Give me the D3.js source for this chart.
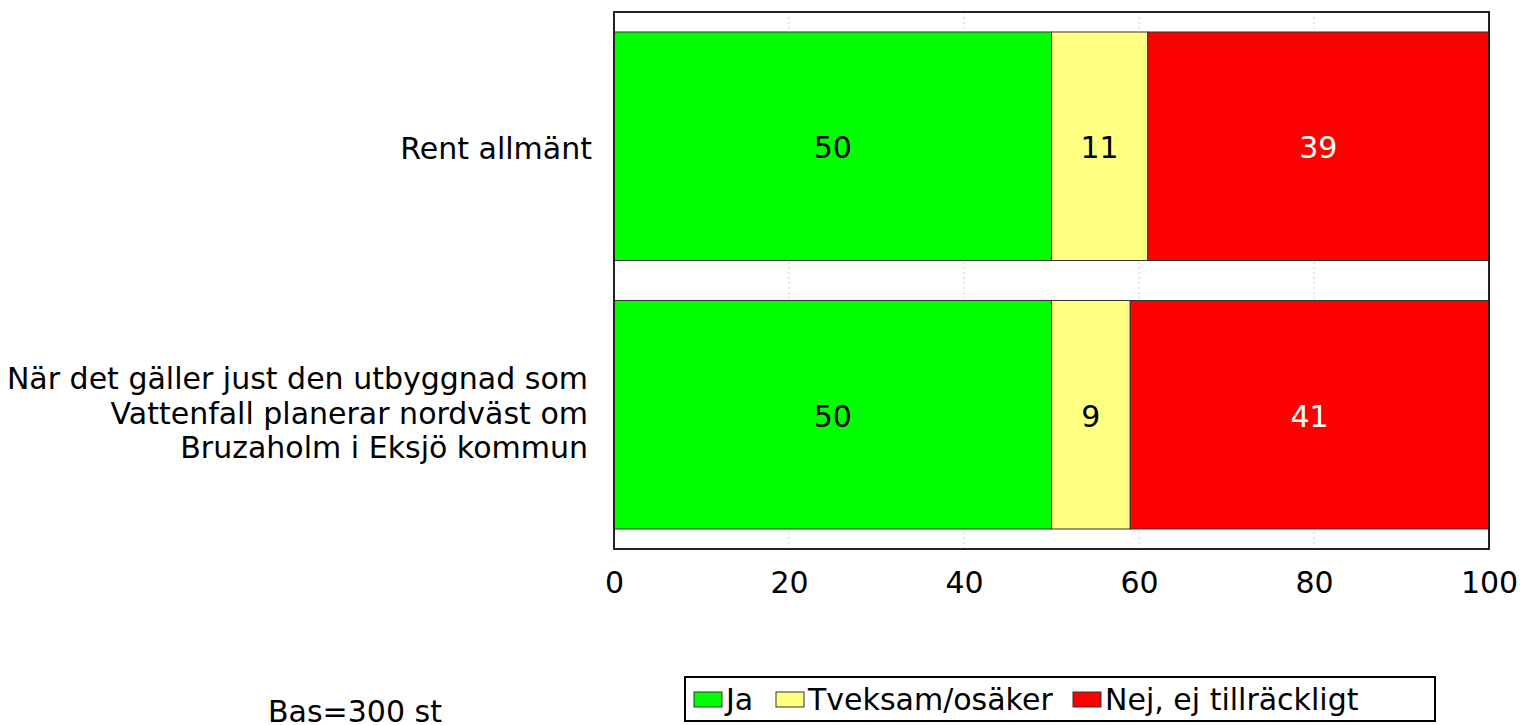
<!DOCTYPE html>
<html>
<head>
<meta charset="utf-8">
<script src="https://cdn.jsdelivr.net/npm/d3@7"></script>
<style>
  body { margin: 0; background: #fff; }
  svg text { font-family: Verdana, "DejaVu Sans", sans-serif; }
</style>
</head>
<body>
<svg id="chart" width="1520" height="725"></svg>
<script>
// data
const categories = [
  ["Rent allmänt"],
  ["När det gäller just den utbyggnad som", "Vattenfall planerar nordväst om", "Bruzaholm i Eksjö kommun"]
];
const seriesNames = ["Ja", "Tveksam/osäker", "Nej, ej tillräckligt"];
const seriesColors = ["#00ff00", "#ffff80", "#ff0000"];
const labelColors = ["#000", "#000", "#fff"];
const values = [
  [50, 11, 39],
  [50, 9, 41]
];
const xTicks = [0, 20, 40, 60, 80, 100];
const baseNote = "Bas=300 st";

const svg = d3.select("#chart");
const plotL = 614, plotR = 1489, plotT = 12, plotB = 549;
const fs = 30;

const x = d3.scaleLinear().domain([0, 100]).range([plotL, plotR]);
const y = d3.scaleBand()
  .domain(d3.range(categories.length))
  .range([plotT, plotB])
  .paddingInner(0.149)
  .paddingOuter(0.0745);

// gridlines
svg.append("g")
  .selectAll("line")
  .data(xTicks.slice(1, -1))
  .join("line")
  .attr("x1", d => x(d)).attr("x2", d => x(d))
  .attr("y1", plotT).attr("y2", plotB)
  .attr("stroke", "#cfcfcf")
  .attr("stroke-dasharray", "2,3");

// stacked bars
const rows = svg.append("g").selectAll("g")
  .data(values)
  .join("g");

rows.each(function (row, i) {
  let acc = 0;
  const segs = row.map((v, j) => {
    const s = { x0: acc, x1: acc + v, v: v, j: j };
    acc += v;
    return s;
  });
  const g = d3.select(this);
  g.selectAll("rect")
    .data(segs)
    .join("rect")
    .attr("x", d => x(d.x0))
    .attr("width", d => x(d.x1) - x(d.x0))
    .attr("y", y(i))
    .attr("height", y.bandwidth())
    .attr("fill", d => seriesColors[d.j])
    .attr("stroke", "#333")
    .attr("stroke-width", 1);
  g.selectAll("text")
    .data(segs)
    .join("text")
    .attr("x", d => x((d.x0 + d.x1) / 2))
    .attr("y", y(i) + y.bandwidth() / 2 + 12)
    .attr("text-anchor", "middle")
    .attr("font-size", fs)
    .attr("fill", d => labelColors[d.j])
    .text(d => d.v);
});

// frame
svg.append("rect")
  .attr("x", plotL).attr("y", plotT)
  .attr("width", plotR - plotL).attr("height", plotB - plotT)
  .attr("fill", "none")
  .attr("stroke", "#222")
  .attr("stroke-width", 2);

// x axis labels
const xAxis = d3.axisBottom(x).tickValues(xTicks).tickSize(0).tickPadding(23);
const ax = svg.append("g").attr("transform", `translate(0,${plotB})`).call(xAxis);
ax.select(".domain").remove();
ax.selectAll("text")
  .attr("font-size", fs)
  .attr("fill", "#000")
  .style("font-family", "Verdana, 'DejaVu Sans', sans-serif");

// category labels
categories.forEach((lines, i) => {
  const cy = y(i) + y.bandwidth() / 2;
  const lh = 34.5;
  const t = svg.append("text")
    .attr("text-anchor", "end")
    .attr("font-size", fs)
    .attr("fill", "#000");
  lines.forEach((ln, k) => {
    t.append("tspan")
      .attr("x", lines.length > 1 ? 588 : 592)
      .attr("y", cy + (lines.length > 1 ? 9 : 13) + (k - (lines.length - 1) / 2) * lh)
      .text(ln);
  });
});

// legend
const lg = svg.append("g");
lg.append("rect")
  .attr("x", 685).attr("y", 677)
  .attr("width", 750).attr("height", 44)
  .attr("fill", "#fff")
  .attr("stroke", "#000")
  .attr("stroke-width", 2);
const legX = [694, 776, 1073];
seriesNames.forEach((name, j) => {
  lg.append("rect")
    .attr("x", legX[j]).attr("y", 692)
    .attr("width", 28).attr("height", 15)
    .attr("fill", seriesColors[j])
    .attr("stroke", "#333");
  lg.append("text")
    .attr("x", legX[j] + 32)
    .attr("y", 710)
    .attr("font-size", fs)
    .text(name);
});

svg.append("text")
  .attr("x", 268).attr("y", 722)
  .attr("font-size", fs)
  .text(baseNote);
</script>
</body>
</html>
